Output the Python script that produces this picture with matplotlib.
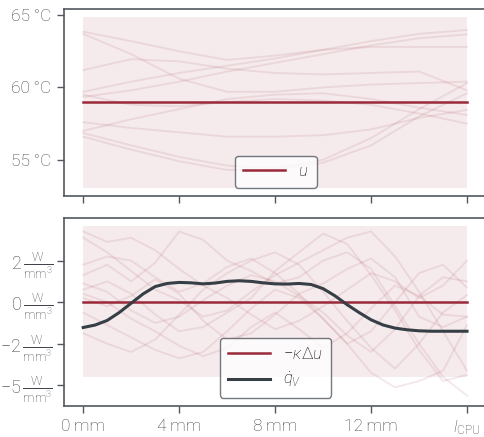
import numpy as np
import matplotlib
matplotlib.use("Agg")
import matplotlib.pyplot as plt

plt.rcParams['font.family'] = ['Roboto', 'DejaVu Sans']
plt.rcParams['font.weight'] = 'light'
plt.rcParams['mathtext.fontset'] = 'custom'
plt.rcParams['mathtext.rm'] = 'Roboto:light'
plt.rcParams['mathtext.it'] = 'Roboto:italic:light'
plt.rcParams['mathtext.bf'] = 'Roboto:bold'

# warna
RED = '#9a2a3a'
DARK = '#363e46'
GRAY = '#50575e'

# data panel atas (suhu, tiap 2 mm)
x_top = [0, 2, 4, 6, 8, 10, 12, 14, 16]
temp_samples = [
    [63.85, 63.2, 62.5, 61.9, 62.2, 62.6, 62.8, 62.8, 62.8],
    [63.7, 62.3, 60.6, 59.7, 59.7, 60.0, 60.2, 60.3, 60.4],
    [61.2, 61.95, 61.8, 61.3, 61.0, 60.9, 61.0, 61.1, 59.8],
    [59.7, 60.4, 61.0, 61.5, 62.0, 62.6, 63.2, 63.7, 63.97],
    [59.5, 58.8, 58.7, 59.0, 59.2, 59.1, 58.8, 58.2, 57.5],
    [57.6, 57.2, 56.9, 56.6, 56.6, 56.7, 57.1, 57.9, 58.45],
    [57.0, 57.8, 58.5, 59.2, 59.5, 59.6, 59.2, 58.6, 58.1],
    [56.85, 56.0, 55.2, 54.6, 54.4, 55.0, 56.5, 58.5, 60.3],
    [56.6, 55.7, 54.9, 54.3, 54.3, 54.8, 56.0, 58.0, 59.6],
    [59.35, 59.8, 60.4, 61.1, 61.7, 62.3, 62.9, 63.4, 63.67],
]
temp_mean = 59.0
temp_band = (53.05, 64.85)

# data panel bawah (sumber panas, tiap 1 mm)
x_bot = list(range(17))
heat_samples = [
    [3.4, 2.9, 3.1, 2.5, 1.6, 0.8, 0.2, -0.6, -1.3, -0.9, -0.2, 0.6, 1.4, 1.0, 0.2, 0.8, 2.0],
    [3.1, 2.4, 1.5, 0.6, 0.1, -0.7, -0.4, 0.5, 1.3, 1.9, 2.5, 3.1, 3.4, 2.2, 0.5, -1.4, -3.3],
    [1.3, 1.8, 1.0, 1.9, 3.4, 3.0, 2.0, 1.5, 0.9, 1.2, 2.0, 2.4, 1.6, -0.2, -2.0, -3.6, -4.5],
    [0.9, 0.5, -0.4, -1.0, -0.7, 0.1, 0.8, 1.3, 1.0, 0.3, -0.5, -1.6, -2.4, -1.3, 0.3, 1.2, 1.0],
    [0.6, 1.0, 0.4, -0.6, -1.4, -1.2, -0.5, 0.2, 1.5, 2.4, 3.3, 2.8, 1.3, -0.4, -2.3, -3.8, -3.5],
    [0.2, -0.2, 0.3, 1.1, 0.4, -0.9, -1.8, -1.5, -0.6, 0.4, 0.9, 1.6, 2.1, 1.2, -0.7, -1.2, -0.7],
    [-0.5, -1.1, -1.7, -2.3, -2.7, -2.4, -1.4, -0.3, 0.6, 0.2, -0.8, -2.0, -1.4, 0.0, 1.4, 1.8, 0.7],
    [-1.5, -2.0, -2.4, -1.8, -0.6, 0.6, 1.4, 2.0, 2.4, 1.8, 0.5, -0.9, -2.2, -3.2, -2.0, -0.5, 0.35],
    [0.4, 0.0, -0.8, -1.4, -2.1, -2.6, -2.2, -1.2, -0.5, -1.3, -2.2, -1.5, -0.3, 0.8, 0.3, -0.6, -0.7],
    [1.8, 2.2, 2.0, 1.2, 0.5, 0.9, 1.7, 2.1, 1.4, 0.4, -0.8, -2.0, -3.4, -4.1, -3.8, -3.3, -1.1],
]
heat_mean = 0.0
heat_band = (-3.6, 3.65)

# q_V (tiap 0.5 mm)
x_q = [i * 0.5 for i in range(33)]
q_v = [-1.22, -1.1, -0.88, -0.5, -0.05, 0.4, 0.75, 0.9, 0.95, 0.93, 0.88, 0.92, 1.0, 1.03,
       1.0, 0.93, 0.88, 0.87, 0.9, 0.85, 0.65, 0.3, -0.12, -0.5, -0.85, -1.1, -1.25, -1.33,
       -1.38, -1.4, -1.4, -1.4, -1.4]

# tick
x_ticks = [0, 4, 8, 12, 16]
x_labels = ['0\u2009mm', '4\u2009mm', '8\u2009mm', '12\u2009mm', r'$l_\mathrm{CPU}$']
top_yticks = [55, 60, 65]
top_ylabels = ['55\u2009°C', '60\u2009°C', '65\u2009°C']
bot_yticks = [2, 0, -2, -4]
bot_ylabels = [r'$2\,\frac{\mathrm{W}}{\mathrm{mm}^3}$', r'$0\,\frac{\mathrm{W}}{\mathrm{mm}^3}$',
               r'$-2\,\frac{\mathrm{W}}{\mathrm{mm}^3}$', r'$-5\,\frac{\mathrm{W}}{\mathrm{mm}^3}$']

fig = plt.figure(figsize=(4.85, 4.37), dpi=100)
ax1 = fig.add_axes([0.132, 0.5515, 0.873, 0.4279])
ax2 = fig.add_axes([0.132, 0.0709, 0.873, 0.4302])

def style_axis(ax):
    for s in ax.spines.values():
        s.set_color(GRAY)
        s.set_linewidth(1.2)
    ax.tick_params(colors=GRAY, labelcolor='#3f454b', labelsize=12.5, length=5, width=1.0,
                   direction='out', pad=4)
    ax.set_xlim(-0.8, 16.85)
    ax.set_xticks(x_ticks)

# panel atas
ax1.fill_between([0, 16], temp_band[0], temp_band[1], color=RED, alpha=0.09, lw=0)
for s in temp_samples:
    ax1.plot(x_top, s, color=RED, alpha=0.1, lw=1.4)
ax1.plot([0, 16], [temp_mean, temp_mean], color=RED, lw=1.8, label=r'$u$')
style_axis(ax1)
ax1.set_ylim(52.5, 65.42)
ax1.set_yticks(top_yticks)
ax1.set_yticklabels(top_ylabels)
ax1.set_xticklabels([])
leg1 = ax1.legend(loc='lower center', fontsize=12, handlelength=2.5, fancybox=True,
                  edgecolor=GRAY, borderpad=0.5)
leg1.get_frame().set_linewidth(1.0)

# panel bawah
ax2.fill_between([0, 16], heat_band[0], heat_band[1], color=RED, alpha=0.09, lw=0)
for s in heat_samples:
    ax2.plot(x_bot, s, color=RED, alpha=0.1, lw=1.4)
ax2.plot([0, 16], [heat_mean, heat_mean], color=RED, lw=1.8, label=r'$-\kappa\Delta u$')
ax2.plot(x_q, q_v, color=DARK, lw=2.2, label=r'$\dot{q}_V$')
style_axis(ax2)
ax2.set_ylim(-5.0, 4.05)
ax2.set_yticks(bot_yticks)
ax2.set_yticklabels(bot_ylabels)
ax2.tick_params(axis='y', labelsize=13, pad=3)
ax2.set_xticklabels(x_labels)
leg2 = ax2.legend(loc='lower center', fontsize=12, handlelength=2.5, fancybox=True,
                  edgecolor=GRAY, borderpad=0.5)
leg2.get_frame().set_linewidth(1.0)

fig.savefig('out.png', dpi=100)
